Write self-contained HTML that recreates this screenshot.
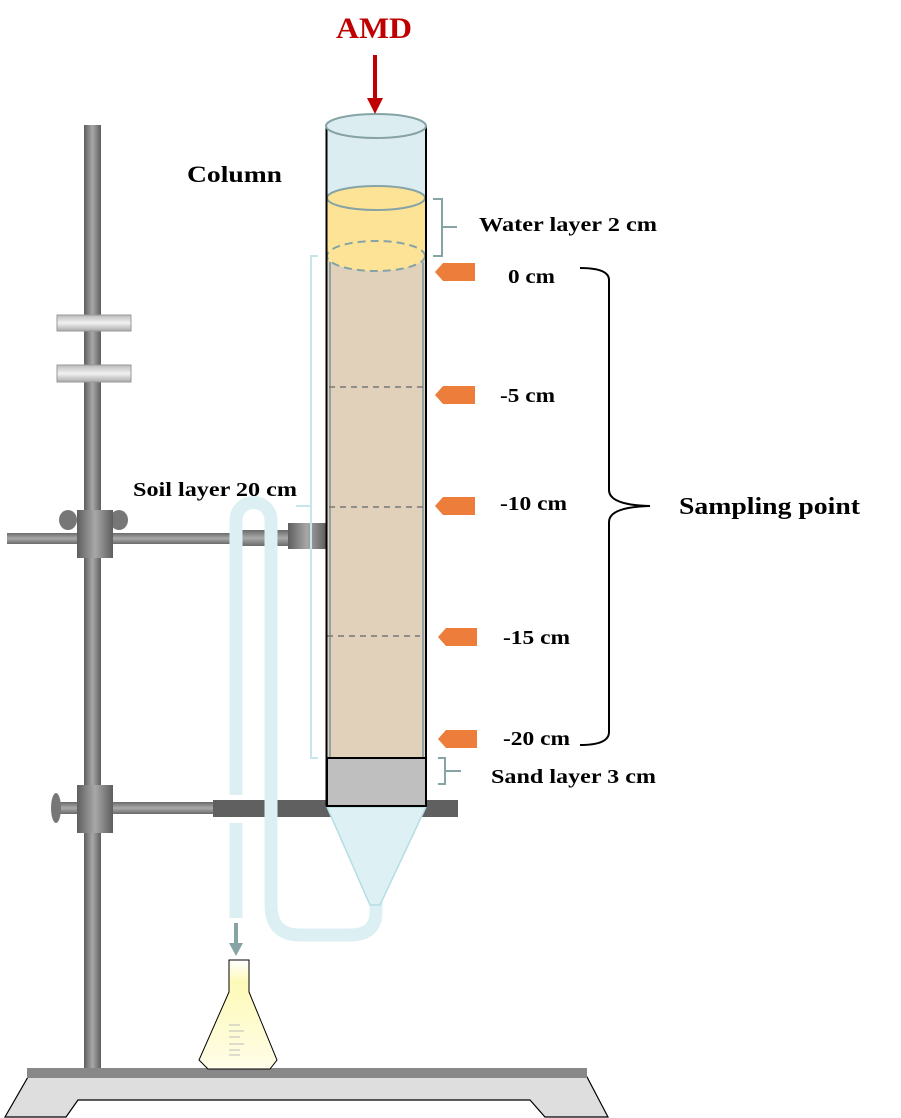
<!DOCTYPE html>
<html><head><style>body{margin:0;background:#fff}svg{display:block}text{font-family:"Liberation Serif",serif;font-weight:bold}</style></head>
<body>
<svg width="901" height="1118" viewBox="0 0 901 1118" xmlns="http://www.w3.org/2000/svg">
<defs>
<linearGradient id="rod" x1="0" x2="1"><stop offset="0" stop-color="#5e5e5e"/><stop offset=".5" stop-color="#a8a8a8"/><stop offset="1" stop-color="#5e5e5e"/></linearGradient>
<linearGradient id="rodh" x1="0" x2="0" y1="0" y2="1"><stop offset="0" stop-color="#6a6a6a"/><stop offset=".5" stop-color="#aaa"/><stop offset="1" stop-color="#6a6a6a"/></linearGradient>
<linearGradient id="plate" x1="0" x2="0" y1="0" y2="1"><stop offset="0" stop-color="#bbb"/><stop offset=".5" stop-color="#f2f2f2"/><stop offset="1" stop-color="#aaa"/></linearGradient>
<linearGradient id="flask" x1="0" x2="0" y1="0" y2="1"><stop offset="0" stop-color="#fff"/><stop offset=".2" stop-color="#fdfab8"/><stop offset="1" stop-color="#fffde8"/></linearGradient>
</defs>
<!-- base -->
<polygon points="28,1077 587,1077 608,1117 545,1117 530,1100 78,1100 66,1117 5,1117" fill="#dedede" stroke="#000" stroke-width="1.2"/>
<rect x="27" y="1068" width="560" height="10" fill="#888"/>
<!-- rod -->
<rect x="84" y="125" width="17" height="943" fill="url(#rod)"/>
<rect x="57" y="315" width="74" height="16" fill="url(#plate)" stroke="#999"/>
<rect x="57" y="365" width="74" height="17" fill="url(#plate)" stroke="#999"/>
<!-- upper clamp -->
<rect x="7" y="533" width="230" height="11" fill="url(#rodh)"/>
<rect x="235" y="530" width="55" height="16" fill="url(#rodh)"/>
<rect x="288" y="523" width="38" height="26" fill="url(#rod)"/>
<ellipse cx="68" cy="520" rx="9" ry="10" fill="#777"/>
<ellipse cx="119" cy="520" rx="9" ry="10" fill="#777"/>
<rect x="77" y="510" width="36" height="48" fill="url(#rod)"/>
<!-- lower clamp -->
<rect x="60" y="802" width="155" height="12" fill="url(#rodh)"/>
<rect x="213" y="800" width="245" height="17" fill="#606060"/>
<ellipse cx="56" cy="808" rx="5" ry="15" fill="#777"/>
<rect x="77" y="785" width="36" height="48" fill="url(#rod)"/>
<!-- tube -->
<g fill="none" stroke="#dcf0f3" stroke-width="13">
<path d="M236,545 V795 M236,823 V918"/>
<path d="M236,545 V520 A17.5,17.5 0 0 1 271,520 V905 Q271,935 300,935 H350 Q376,935 376,912 V900"/>
</g>
<!-- funnel -->
<polygon points="327,807 426,807 380,905 370,905" fill="#ddf0f3" stroke="#b5dde3" stroke-width="1.5"/>
<!-- column -->
<rect x="327" y="126" width="99" height="72" fill="#dcedf1"/>
<rect x="327" y="198" width="99" height="58" fill="#fde396"/>
<rect x="327" y="256" width="99" height="502" fill="#e1d1bb"/>
<line x1="330" y1="262" x2="330" y2="758" stroke="#8fa5a5" stroke-width="2"/>
<line x1="423" y1="262" x2="423" y2="758" stroke="#8fa5a5" stroke-width="2"/>
<ellipse cx="376" cy="198" rx="49" ry="12" fill="#fde396" stroke="#86a3a6" stroke-width="2"/>
<ellipse cx="376" cy="256" rx="49" ry="15" fill="#fde396" stroke="#86a3a6" stroke-width="2" stroke-dasharray="8,5"/>
<g stroke="#777" stroke-width="1.5" stroke-dasharray="6,5">
<line x1="329" y1="387" x2="424" y2="387"/><line x1="329" y1="507" x2="424" y2="507"/><line x1="327" y1="636" x2="420" y2="636"/>
</g>
<rect x="327" y="758" width="99" height="48" fill="#bfbfbf" stroke="#000" stroke-width="2"/>
<line x1="326.5" y1="126" x2="326.5" y2="806" stroke="#000" stroke-width="2"/>
<line x1="426" y1="126" x2="426" y2="806" stroke="#000" stroke-width="2"/>
<ellipse cx="376" cy="126" rx="50" ry="12" fill="#dcedf1" stroke="#86a3a6" stroke-width="2"/>
<!-- AMD -->
<text x="336" y="38" font-size="30" fill="#c00000" textLength="76" lengthAdjust="spacingAndGlyphs">AMD</text>
<line x1="375" y1="55" x2="375" y2="100" stroke="#c00000" stroke-width="4"/>
<polygon points="367,98 383,98 375,114" fill="#c00000"/>
<text x="187" y="182" font-size="23" textLength="95" lengthAdjust="spacingAndGlyphs">Column</text>
<!-- brackets -->
<path d="M433,199 H442 V256 H433 M442,227 H457" fill="none" stroke="#86a3a6" stroke-width="2"/>
<text x="479" y="231" font-size="20" textLength="178" lengthAdjust="spacingAndGlyphs">Water layer  2 cm</text>
<path d="M438,758 H445 V784 H438 M445,771 H461" fill="none" stroke="#86a3a6" stroke-width="2"/>
<text x="491" y="783" font-size="20" textLength="165" lengthAdjust="spacingAndGlyphs">Sand layer  3 cm</text>
<path d="M318,256 H311 V758 H318 M311,506 H296" fill="none" stroke="#c5e6ea" stroke-width="2"/>
<text x="133" y="496" font-size="20" textLength="164" lengthAdjust="spacingAndGlyphs">Soil layer  20 cm</text>
<!-- tags -->
<g fill="#ed7d3b">
<polygon points="443,263 475,263 475,281 443,281 435,272"/>
<polygon points="443,386 475,386 475,404 443,404 435,395"/>
<polygon points="443,497 475,497 475,515 443,515 435,506"/>
<polygon points="446,628 477,628 477,646 446,646 438,637"/>
<polygon points="446,730 477,730 477,748 446,748 438,739"/>
</g>
<g font-size="20">
<text x="508" y="283" textLength="47" lengthAdjust="spacingAndGlyphs">0 cm</text>
<text x="500" y="402" textLength="55" lengthAdjust="spacingAndGlyphs">-5 cm</text>
<text x="500" y="510" textLength="67" lengthAdjust="spacingAndGlyphs">-10 cm</text>
<text x="503" y="644" textLength="67" lengthAdjust="spacingAndGlyphs">-15 cm</text>
<text x="503" y="745" textLength="67" lengthAdjust="spacingAndGlyphs">-20 cm</text>
</g>
<path d="M580,268 Q609,268 609,280 V490 Q609,505 650,506 Q609,507 609,522 V732 Q609,745 580,745" fill="none" stroke="#000" stroke-width="2"/>
<text x="679" y="514" font-size="24" textLength="181" lengthAdjust="spacingAndGlyphs">Sampling point</text>
<!-- drip arrow -->
<line x1="236" y1="923" x2="236" y2="945" stroke="#86a3a6" stroke-width="4"/>
<polygon points="229,943 243,943 236,956" fill="#86a3a6"/>
<!-- flask -->
<path d="M229,960 H249 V992 L277,1060 L270,1069 H208 L199,1060 L229,992 Z" fill="url(#flask)" stroke="#000" stroke-width="1"/>
<g stroke="#bbb" stroke-width="1"><line x1="229" y1="1044" x2="244" y2="1044"/><line x1="229" y1="1050" x2="240" y2="1050"/><line x1="229" y1="1037" x2="240" y2="1037"/><line x1="229" y1="1031" x2="244" y2="1031"/><line x1="229" y1="1025" x2="240" y2="1025"/><line x1="229" y1="1055" x2="240" y2="1055"/></g>
</svg>
</body></html>
